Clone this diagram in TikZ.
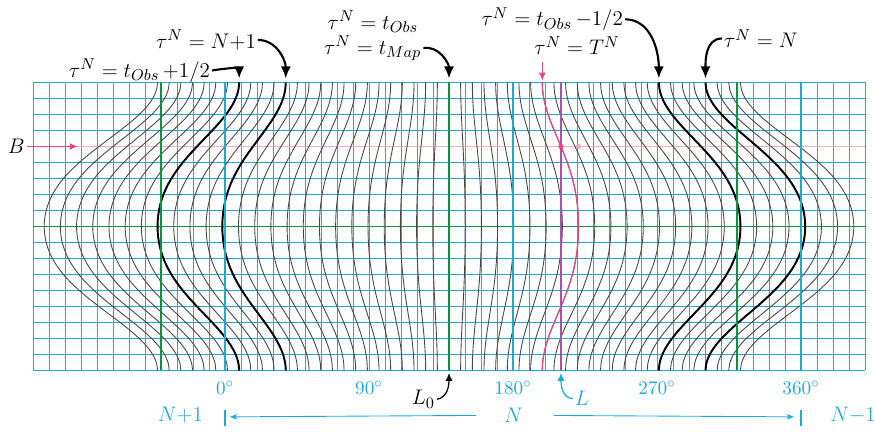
\documentclass[tikz,border=0pt]{standalone}
\usepackage{amsmath}
\usepackage{xcolor}
\usepackage{tikz}
\usetikzlibrary{arrows.meta}

\definecolor{gridblue}{RGB}{30,168,218}
\definecolor{mergreen}{RGB}{0,150,70}
\definecolor{bpink}{RGB}{232,70,125}
\definecolor{lviolet}{RGB}{175,80,160}
\definecolor{curvegray}{RGB}{70,70,70}

% curve of constant tau, given by its crossing of the equator
\newcommand{\tauline}[2][]{%
  \draw[#1] plot[domain=-90:90, samples=41, smooth, variable=\q]
    ({#2-0.28*(#2-140)*(2.396*sin(\q)*sin(\q)+1.787*sin(\q)*sin(\q)*sin(\q)*sin(\q))/4.183}, \q);}

\begin{document}
\begin{tikzpicture}[x=0.032cm, y=0.032cm,
        gridline/.style={draw=gridblue, line width=0.55pt},
        merid/.style={line width=1.7pt},
        tcurve/.style={draw=curvegray, line width=0.5pt},
        tbold/.style={draw=black, line width=1.1pt},
        callout/.style={-{Latex[length=2.4mm, width=2mm]}, line width=1.2pt},
        smallcall/.style={-{Latex[length=1.6mm, width=1.4mm]}, line width=0.7pt},
        toplabel/.style={font=\fontsize{12.5}{15}\selectfont, inner sep=1pt},
        axlabel/.style={toplabel, text=gridblue},
        degtext/.style={font=\fontsize{11}{13}\selectfont, inner sep=1pt, text=gridblue}
    ]
        \useasboundingbox (-140.625,-128.4375) rectangle (405.625,141.5625);

        % Grid
        \foreach \gx in {-120,-110,...,400} \draw[gridline] (\gx,-90) -- (\gx,90);
        \foreach \gy in {-90,-80,...,90} \draw[gridline] (-120,\gy) -- (400,\gy);
        \draw[draw=mergreen, line width=0.6pt] (-120,0) -- (400,0);
        \draw[draw=bpink!45, line width=0.6pt] (-120,50) -- (400,50);

        % Curves of constant tau
        \foreach \k in {-25,...,25} {\pgfmathsetmacro\le{140+10.12*\k} \tauline[tcurve]{\le}}
        \tauline[tbold]{-42.16}
        \tauline[tbold]{-1.68}
        \tauline[tbold]{322.16}
        \tauline[tbold]{362.64}
        \tauline[draw=bpink, line width=0.7pt]{220.96}

        % Meridians
        \foreach \m in {0,180,360} \draw[merid, draw=gridblue] (\m,-90) -- (\m,90);
        \foreach \m in {-40,140,320} \draw[merid, draw=mergreen] (\m,-90) -- (\m,90);
        \draw[draw=lviolet, line width=0.7pt] (210,-90) -- (210,90);
        \fill[bpink] (210,50) circle (1.6);
        \fill[bpink!50] (220.96,50) circle (1.6);

        % Top labels
        \node[toplabel, anchor=east] (obsplus) at (-8.1,97.5) {$\tau^N= t_{Obs}\,{+}1/2$};
        \node[toplabel, anchor=east] (nplus) at (20.6,116.6) {$\tau^N= N{+}1$};
        \node[toplabel, anchor=east] (obs) at (122,128) {$\tau^N= t_{Obs}$};
        \node[toplabel, anchor=east] (map) at (124,111.5) {$\tau^N= t_{Map}$};
        \node[toplabel, anchor=east] (obsminus) at (250,129.5) {$\tau^N= t_{Obs}\,{-}1/2$};
        \node[toplabel, anchor=east] (tcap) at (248,113) {$\tau^N= T^N$};
        \node[toplabel, anchor=west] (nrot) at (310.6,117.5) {$\tau^N= N$};

        \coordinate (cObsPlus) at (8.84,92.5);
        \coordinate (cNplus) at (37.99,92.5);
        \coordinate (cMap) at (140,92.5);
        \coordinate (cObsMinus) at (271.16,92.5);
        \coordinate (cNrot) at (300.3,92.5);
        \coordinate (cTtop) at (198.3,102.8);
        \coordinate (cTtip) at (198.3,91.2);

        \draw[callout] (obsplus.east) to[out=10, in=90] (cObsPlus);
        \draw[callout] (nplus.east) to[out=0, in=90] (cNplus);
        \draw[callout] (map.east) to[out=10, in=90] (cMap);
        \draw[callout] (obsminus.east) to[out=0, in=90] (cObsMinus);
        \draw[callout] (nrot.west) to[out=180, in=90] (cNrot);
        \draw[smallcall, draw=bpink] (cTtop) -- (cTtip);

        % Latitude B
        \node[toplabel] (blat) at (-130.5,50) {$B$};
        \coordinate (bTip) at (-92,50);
        \draw[smallcall, draw=bpink] (blat.east) -- (bTip);

        % Bottom labels
        \node[degtext] (d0) at (0,-101) {$0^\circ$};
        \node[degtext] (d90) at (90,-101) {$90^\circ$};
        \node[degtext] (d180) at (180,-101) {$180^\circ$};
        \node[degtext] (d270) at (270,-101) {$270^\circ$};
        \node[degtext] (d360) at (360,-101) {$360^\circ$};

        \node[toplabel] (lzero) at (124,-108) {$L_0$};
        \node[axlabel] (lcar) at (223.1,-107.5) {$L$};
        \coordinate (lzeroTip) at (140,-91.5);
        \coordinate (lcarTip) at (210,-91.5);
        \draw[smallcall] (lzero.east) to[out=10, in=-90] (lzeroTip);
        \draw[smallcall, draw=gridblue] (lcar.west) to[out=180, in=-90] (lcarTip);

        % Rotation numbers
        \node[axlabel] (rotN) at (180.3,-118) {$N$};
        \node[axlabel, anchor=east] (rotNp) at (-12.5,-118) {$N{+}1$};
        \node[axlabel, anchor=west] (rotNm) at (377,-118) {$N{-}1$};
        \coordinate (tickL) at (0,-119);
        \coordinate (tickR) at (360,-119);
        \draw[draw=gridblue, line width=0.6pt] (0,-114.5) -- (0,-124.5);
        \draw[draw=gridblue, line width=0.6pt] (360,-114.5) -- (360,-124.5);
        \draw[-{Stealth[length=1.5mm]}, draw=gridblue, line width=0.5pt, shorten <=0.52cm, shorten >=2.8pt] (rotN.west) -- (tickL);
        \draw[-{Stealth[length=1.5mm]}, draw=gridblue, line width=0.5pt, shorten <=0.58cm, shorten >=4pt] (rotN.east) -- (tickR);

    \end{tikzpicture}
\end{document}
